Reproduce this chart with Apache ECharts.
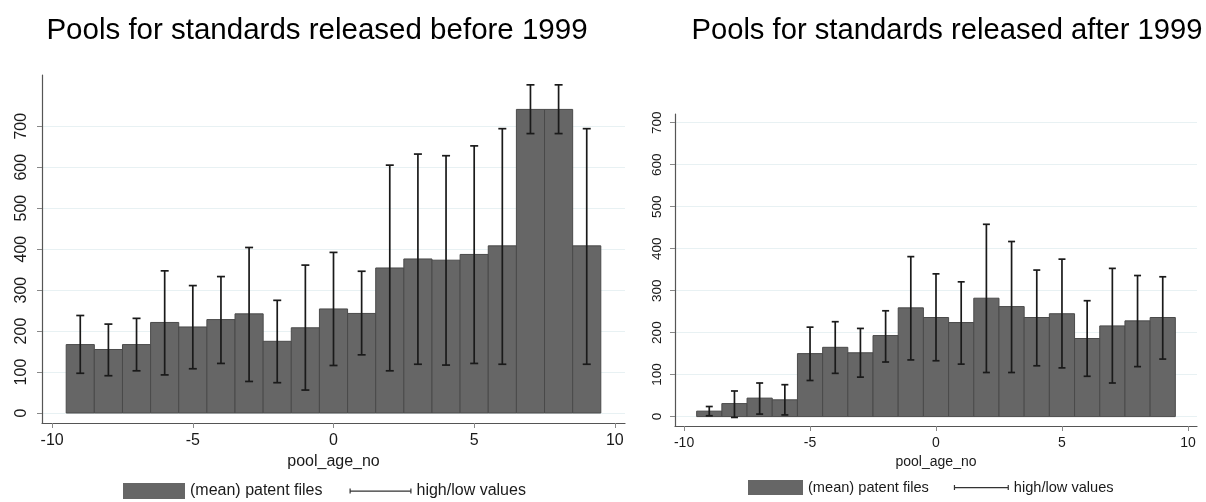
<!DOCTYPE html>
<html>
<head>
<meta charset="utf-8">
<script src="https://cdn.jsdelivr.net/npm/echarts@6/dist/echarts.min.js"></script>
<style>
  html, body { margin: 0; padding: 0; background: #fff; }
  #main { width: 1206px; height: 502px; }
</style>
</head>
<body>
<div id="main"></div>
<script>
// pool age (years relative to standard release)
var ages = [-9, -8, -7, -6, -5, -4, -3, -2, -1, 0, 1, 2, 3, 4, 5, 6, 7, 8, 9];

// before 1999
var meanBefore = [167, 155, 167, 221, 210, 228, 242, 175, 208, 254, 243, 354, 376, 373, 387, 408, 741, 741, 408];
var highBefore = [238, 217, 231, 347, 311, 333, 404, 275, 361, 392, 346, 605, 632, 628, 652, 694, 801, 801, 694];
var lowBefore  = [97, 91, 103, 93, 108, 121, 77, 74, 56, 116, 142, 103, 119, 117, 121, 119, 682, 682, 119];

// after 1999
var meanAfter = [13, 31, 44, 40, 150, 165, 152, 193, 259, 236, 224, 282, 262, 236, 245, 186, 216, 228, 236];
var highAfter = [24, 61, 80, 76, 213, 226, 210, 252, 381, 340, 321, 458, 417, 349, 375, 276, 353, 336, 333];
var lowAfter  = [2, -2, 6, 4, 86, 103, 94, 130, 135, 133, 125, 105, 105, 121, 116, 96, 80, 119, 137];

var xTicks = [-10, -5, 0, 5, 10];
var yTicks = [0, 100, 200, 300, 400, 500, 600, 700];

var FONT = 'Liberation Sans, Arial, sans-serif';
var BAR_COLOR = '#666666';
var ERR_COLOR = '#1a1a1a';

function barRows(means) {
  return ages.map(function (a, i) { return [a, means[i]]; });
}
function errRows(lows, highs) {
  return ages.map(function (a, i) { return [a, lows[i], highs[i]]; });
}

function renderBar(params, api) {
  var x = api.value(0), v = api.value(1);
  var p1 = api.coord([x - 0.5, v]);
  var p2 = api.coord([x + 0.5, 0]);
  return {
    type: 'rect',
    shape: { x: p1[0], y: p1[1], width: p2[0] - p1[0], height: p2[1] - p1[1] },
    style: { fill: BAR_COLOR, stroke: '#4a4a4a', lineWidth: 1 }
  };
}

function makeErr(cap) {
  return function (params, api) {
    var x = api.value(0);
    var lo = api.coord([x, api.value(1)]);
    var hi = api.coord([x, api.value(2)]);
    var st = { stroke: ERR_COLOR, lineWidth: 1.7 };
    return {
      type: 'group',
      children: [
        { type: 'line', shape: { x1: lo[0], y1: lo[1], x2: hi[0], y2: hi[1] }, style: st },
        { type: 'line', shape: { x1: hi[0] - cap, y1: hi[1], x2: hi[0] + cap, y2: hi[1] }, style: st },
        { type: 'line', shape: { x1: lo[0] - cap, y1: lo[1], x2: lo[0] + cap, y2: lo[1] }, style: st }
      ]
    };
  };
}

function xAxisOpt(grid, fs) {
  return {
    type: 'value', gridIndex: grid, min: -10.36, max: 10.36, position: 'bottom',
    name: 'pool_age_no', nameLocation: 'middle', nameGap: fs + 9,
    nameTextStyle: { color: '#1a1a1a', fontSize: fs, fontFamily: FONT },
    axisLine: { show: true, onZero: false, lineStyle: { color: '#555', width: 1.2 } },
    axisTick: { show: true, length: 5, customValues: xTicks, lineStyle: { color: '#888' } },
    axisLabel: { customValues: xTicks, color: '#1a1a1a', fontSize: fs, fontFamily: FONT, margin: 10 },
    splitLine: { show: false }
  };
}

function yAxisOpt(grid, min, max, fs, margin) {
  return {
    type: 'value', gridIndex: grid, min: min, max: max, position: 'left',
    axisLine: { show: true, onZero: false, lineStyle: { color: '#555', width: 1.2 } },
    axisTick: { show: true, length: 5, customValues: yTicks, lineStyle: { color: '#888' } },
    axisLabel: { customValues: yTicks, rotate: 90, color: '#1a1a1a', fontSize: fs, fontFamily: FONT, margin: margin },
    splitLine: { show: true, lineStyle: { color: '#e8f1f3', width: 1.2 } }
  };
}

function legendOpt(left, top, w, h, fs, gap) {
  return {
    left: left, top: top, padding: 0, itemWidth: w, itemHeight: h, itemGap: gap,
    selectedMode: false,
    textStyle: { color: '#1a1a1a', fontSize: fs, fontFamily: FONT, padding: [0, 0, 0, 0] },
    data: [
      { name: '(mean) patent files', icon: 'rect', itemStyle: { color: BAR_COLOR } },
      { name: 'high/low values',
        icon: 'path://M0,0h1.2v5h-1.2z M0,2h' + w + 'v1.2h-' + w + 'z M' + (w - 1.2) + ',0h1.2v5h-1.2z',
        itemStyle: { color: '#333' } }
    ]
  };
}

var chart = echarts.init(document.getElementById('main'), null, { renderer: 'canvas' });

var option = {
  backgroundColor: '#ffffff',
  animation: false,
  title: [
    { text: 'Pools for standards released before 1999', left: 317, top: 16, padding: 0, textAlign: 'center',
      textStyle: { color: '#000', fontSize: 29.5, fontWeight: 'normal', fontFamily: FONT } },
    { text: 'Pools for standards released after 1999', left: 947, top: 16, padding: 0, textAlign: 'center',
      textStyle: { color: '#000', fontSize: 29.2, fontWeight: 'normal', fontFamily: FONT } }
  ],
  grid: [
    { left: 42, top: 75, width: 583, height: 348 },
    { left: 675, top: 114, width: 522, height: 312 }
  ],
  legend: [
    legendOpt(123, 483, 62, 16, 16, 27),
    legendOpt(748, 480, 55, 15, 14.6, 25)
  ],
  xAxis: [xAxisOpt(0, 16), xAxisOpt(1, 14)],
  yAxis: [yAxisOpt(0, -24.4, 825, 16, 12), yAxisOpt(1, -22.4, 720.7, 13.5, 11)],
  series: [
    { name: '(mean) patent files', type: 'custom', xAxisIndex: 0, yAxisIndex: 0,
      renderItem: renderBar, data: barRows(meanBefore), encode: { x: 0, y: 1 } },
    { name: 'high/low values', type: 'custom', xAxisIndex: 0, yAxisIndex: 0,
      renderItem: makeErr(4), data: errRows(lowBefore, highBefore), encode: { x: 0, y: [1, 2] } },
    { name: '(mean) patent files', type: 'custom', xAxisIndex: 1, yAxisIndex: 1,
      renderItem: renderBar, data: barRows(meanAfter), encode: { x: 0, y: 1 } },
    { name: 'high/low values', type: 'custom', xAxisIndex: 1, yAxisIndex: 1,
      renderItem: makeErr(3.5), data: errRows(lowAfter, highAfter), encode: { x: 0, y: [1, 2] } }
  ]
};

chart.setOption(option);
</script>
</body>
</html>
